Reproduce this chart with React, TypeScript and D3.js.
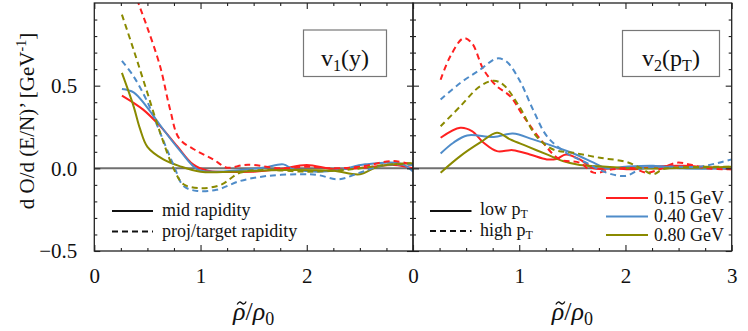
import { useEffect, useRef } from "react";
import * as d3 from "d3";

// v1(y) panel: mid rapidity (solid) and proj/target rapidity (dashed)
const v1Mid015 = [[0.26,0.44],[0.46,0.355],[0.62,0.255],[0.78,0.134],[0.93,0.024],[1.07,-0.014],[1.5,-0.02],[1.75,-0.005],[2.0,0.02],[2.25,-0.005],[2.55,0.005],[2.82,0.02],[3.0,0.0]];
const v1Mid040 = [[0.26,0.48],[0.37,0.46],[0.49,0.375],[0.65,0.235],[0.81,0.104],[0.97,-0.006],[1.12,-0.02],[1.38,-0.01],[1.6,0.005],[1.78,0.024],[1.87,-0.005],[2.1,-0.02],[2.3,-0.01],[2.55,0.024],[2.88,0.03],[3.0,-0.02]];
const v1Mid080 = [[0.26,0.577],[0.37,0.375],[0.43,0.24],[0.5,0.13],[0.65,0.054],[0.81,0.012],[1.0,-0.02],[1.3,-0.02],[1.78,-0.01],[2.25,-0.015],[2.5,-0.036],[2.67,0.01],[2.98,0.03]];
const v1Proj015 = [[0.25,1.31],[0.415,1.0],[0.5,0.85],[0.62,0.616],[0.714,0.355],[0.8,0.18],[0.97,0.104],[1.12,0.054],[1.25,0.004],[1.4,0.02],[1.5,0.02],[1.75,0.0],[2.0,0.01],[2.25,0.0],[2.5,0.01],[2.82,0.044],[3.0,0.02]];
const v1Proj040 = [[0.26,0.65],[0.37,0.556],[0.49,0.415],[0.62,0.215],[0.75,0.014],[0.84,-0.107],[0.97,-0.137],[1.15,-0.13],[1.375,-0.076],[1.63,-0.046],[1.94,-0.036],[2.1,-0.04],[2.3,-0.066],[2.5,-0.026],[2.73,0.02],[3.0,0.02]];
const v1Proj080 = [[0.26,0.93],[0.37,0.717],[0.49,0.476],[0.62,0.215],[0.75,-0.006],[0.84,-0.096],[1.0,-0.12],[1.19,-0.1],[1.375,-0.026],[1.63,-0.01],[2.0,-0.02],[2.42,-0.006],[2.73,0.02],[3.0,0.03]];

// v2(pT) panel: low pT (solid) and high pT (dashed)
const v2Low015 = [[0.26,0.185],[0.445,0.245],[0.555,0.225],[0.665,0.155],[0.79,0.104],[0.94,0.11],[1.1,0.084],[1.26,0.054],[1.35,0.057],[1.44,0.084],[1.57,0.054],[1.7,0.0],[1.88,0.0],[2.07,-0.006],[2.26,0.01],[2.54,0.016],[3.0,-0.006]];
const v2Low040 = [[0.26,0.09],[0.38,0.155],[0.51,0.199],[0.76,0.19],[0.94,0.21],[1.13,0.175],[1.32,0.134],[1.51,0.09],[1.7,0.034],[1.82,0.0],[2.0,0.01],[2.26,0.016],[2.54,0.0],[3.0,0.0]];
const v2Low080 = [[0.26,-0.026],[0.445,0.074],[0.63,0.155],[0.79,0.215],[0.915,0.175],[1.07,0.134],[1.26,0.084],[1.41,0.044],[1.57,0.02],[1.82,0.01],[2.07,0.0],[3.0,0.01]];
const v2High015 = [[0.26,0.536],[0.35,0.676],[0.476,0.787],[0.555,0.757],[0.665,0.596],[0.79,0.496],[0.915,0.436],[1.04,0.315],[1.2,0.175],[1.38,0.054],[1.57,0.034],[1.7,-0.026],[1.88,-0.006],[2.07,0.0],[2.2,-0.026],[2.32,-0.006],[2.48,0.034],[2.6,0.024],[2.76,0.0],[3.0,-0.006]];
const v2High040 = [[0.26,0.416],[0.445,0.516],[0.63,0.596],[0.79,0.665],[0.88,0.646],[1.0,0.536],[1.13,0.355],[1.26,0.195],[1.44,0.094],[1.63,0.034],[1.82,-0.026],[2.0,-0.046],[2.16,0.0],[2.38,0.01],[2.69,0.01],[2.88,0.034],[3.0,0.054]];
const v2High080 = [[0.26,0.255],[0.445,0.375],[0.63,0.496],[0.76,0.53],[0.85,0.506],[1.0,0.375],[1.16,0.195],[1.32,0.114],[1.51,0.094],[1.76,0.064],[2.0,0.04],[2.13,0.006],[2.26,-0.036],[2.35,-0.006],[2.5,0.005],[3.0,0.01]];

const energies = ["0.15 GeV", "0.40 GeV", "0.80 GeV"];
const colors = ["#ff2020", "#4f8cc9", "#8a8a00"];
const yMajor = [-0.5, 0, 0.5];
const xMajorLeft = [0, 1, 2];
const xMajorRight = [0, 1, 2, 3];

const FONT = "Liberation Serif, Tinos, DejaVu Serif, serif";
const top = 3, bottom = 251;
const y = d3.scaleLinear().domain([-0.5, 1.0]).range([bottom, top]);
const xLeft = d3.scaleLinear().domain([0, 3]).range([94.3, 413]);
const xRight = d3.scaleLinear().domain([0, 3]).range([413, 731.7]);

function Axis({ make, transform, labels }) {
  const ref = useRef(null);
  useEffect(() => {
    if (!ref.current) return;
    const g = d3.select(ref.current);
    g.call(make());
    g.attr("font-family", null).attr("font-size", null);
    g.select(".domain").remove();
    g.selectAll(".tick line").attr("stroke", "#222").attr("stroke-width", 1.1);
    g.selectAll(".tick text")
      .style("font-family", FONT)
      .style("font-size", "21px")
      .attr("fill", "#111")
      .style("display", labels ? null : "none");
  }, [make, labels]);
  return <g ref={ref} transform={transform} />;
}

function Panel({ x, series, xTicks, showY, id }) {
  const [x0, x1] = x.range();
  const line = (pts) =>
    d3.line().x((d) => x(d[0])).y((d) => y(d[1])).curve(d3.curveCatmullRom.alpha(0.5))(pts);
  const yMinor = d3.range(-5, 10).map((i) => i / 10).filter((v) => !yMajor.includes(Math.round(v * 10) / 10));
  const xMinor = d3.range(0, 13).map((i) => i / 4).filter((v) => v % 1 !== 0);
  const cx = (x0 + x1) / 2;
  return (
    <g>
      <clipPath id={id}>
        <rect x={x0} y={top} width={x1 - x0} height={bottom - top} />
      </clipPath>
      <line x1={x0} x2={x1} y1={y(0)} y2={y(0)} stroke="#707070" strokeWidth={2} />
      <g clipPath={`url(#${id})`}>
        {series.map((s, i) => (
          <path key={i} d={line(s.pts)} fill="none" stroke={s.color} strokeWidth={2}
            strokeDasharray={s.dashed ? "6,4" : null} />
        ))}
      </g>
      <Axis make={() => d3.axisLeft(y).tickValues(yMajor).tickSize(-6).tickPadding(17).tickFormat(d3.format(".1f"))}
        transform={`translate(${x0},0)`} labels={showY} />
      <Axis make={() => d3.axisLeft(y).tickValues(yMinor).tickSize(-3)} transform={`translate(${x0},0)`} labels={false} />
      <Axis make={() => d3.axisRight(y).tickValues(yMajor).tickSize(-6)} transform={`translate(${x1},0)`} labels={false} />
      <Axis make={() => d3.axisRight(y).tickValues(yMinor).tickSize(-3)} transform={`translate(${x1},0)`} labels={false} />
      <Axis make={() => d3.axisBottom(x).tickValues(xTicks).tickSize(-6).tickPadding(17).tickFormat(d3.format("d"))}
        transform={`translate(0,${bottom})`} labels={true} />
      <Axis make={() => d3.axisBottom(x).tickValues(xMinor).tickSize(-3)} transform={`translate(0,${bottom})`} labels={false} />
      <Axis make={() => d3.axisTop(x).tickValues([0, 1, 2, 3]).tickSize(-6)} transform={`translate(0,${top})`} labels={false} />
      <Axis make={() => d3.axisTop(x).tickValues(xMinor).tickSize(-3)} transform={`translate(0,${top})`} labels={false} />
      <rect x={x0} y={top} width={x1 - x0} height={bottom - top} fill="none" stroke="#222" strokeWidth={1.3} />
      <text x={cx} y={320} textAnchor="middle" style={{ fontFamily: FONT, fontSize: 26 }} fill="#111">
        <tspan fontStyle="italic">ρ</tspan>/<tspan fontStyle="italic">ρ</tspan>
        <tspan fontSize={18} dy={5}>0</tspan>
      </text>
      {/* tilde accent over the first rho */}
      <path transform={`translate(${cx - 12},${303})`} d="M-4.5,1.5 C-3,-1.5 -1.5,-1.5 0,0 S3,1.5 4.5,-1.5"
        fill="none" stroke="#111" strokeWidth={1.3} />
    </g>
  );
}

export default function App() {
  const leftSeries = [
    ...[v1Mid015, v1Mid040, v1Mid080].map((pts, i) => ({ pts, color: colors[i], dashed: false })),
    ...[v1Proj015, v1Proj040, v1Proj080].map((pts, i) => ({ pts, color: colors[i], dashed: true })),
  ];
  const rightSeries = [
    ...[v2Low015, v2Low040, v2Low080].map((pts, i) => ({ pts, color: colors[i], dashed: false })),
    ...[v2High015, v2High040, v2High080].map((pts, i) => ({ pts, color: colors[i], dashed: true })),
  ];
  const t = { style: { fontFamily: FONT }, fill: "#111" };
  return (
    <svg width={748} height={331} style={{ position: "absolute", left: 0, top: 0, background: "#fff", fontFamily: FONT }}>
      <Panel x={xLeft} series={leftSeries} xTicks={xMajorLeft} showY={true} id="clipL" />
      <Panel x={xRight} series={rightSeries} xTicks={xMajorRight} showY={false} id="clipR" />

      <text transform="translate(34,121) rotate(-90)" textAnchor="middle" fontSize={21} {...t}>
        d O/d (E/N)’ [GeV<tspan fontSize={14} dy={-8}>-1</tspan><tspan dy={8}>]</tspan>
      </text>

      <rect x={303.5} y={30} width={83} height={46.5} fill="#fff" stroke="#777" strokeWidth={1.2} />
      <text x={345} y={66} textAnchor="middle" fontSize={24} {...t}>
        v<tspan fontSize={16} dy={5}>1</tspan><tspan dy={-5}>(y)</tspan>
      </text>
      <rect x={622.5} y={30.5} width={97} height={46} fill="#fff" stroke="#777" strokeWidth={1.2} />
      <text x={671} y={66} textAnchor="middle" fontSize={24} {...t}>
        v<tspan fontSize={16} dy={5}>2</tspan><tspan dy={-5}>(p</tspan><tspan fontSize={16} dy={5}>T</tspan><tspan dy={-5}>)</tspan>
      </text>

      {/* style legend, left */}
      <line x1={112} x2={153} y1={211} y2={211} stroke="#111" strokeWidth={2} />
      <line x1={112} x2={153} y1={231.5} y2={231.5} stroke="#111" strokeWidth={2} strokeDasharray="6,4" />
      <text x={162} y={216} fontSize={18} {...t}>mid rapidity</text>
      <text x={162} y={236.5} fontSize={18} {...t}>proj/target rapidity</text>

      {/* style legend, right */}
      <line x1={430} x2={471.5} y1={211} y2={211} stroke="#111" strokeWidth={2} />
      <line x1={430} x2={471.5} y1={231} y2={231} stroke="#111" strokeWidth={2} strokeDasharray="6,4" />
      <text x={480} y={215} fontSize={18} {...t}>low p<tspan fontSize={12} dy={3}>T</tspan></text>
      <text x={480} y={236} fontSize={18} {...t}>high p<tspan fontSize={12} dy={3}>T</tspan></text>

      {/* energy legend */}
      {energies.map((e, i) => (
        <g key={e}>
          <line x1={606} x2={648} y1={198 + i * 18.5} y2={198 + i * 18.5} stroke={colors[i]} strokeWidth={2} />
          <text x={654} y={203.5 + i * 18.5} fontSize={18} {...t}>{e}</text>
        </g>
      ))}
    </svg>
  );
}
